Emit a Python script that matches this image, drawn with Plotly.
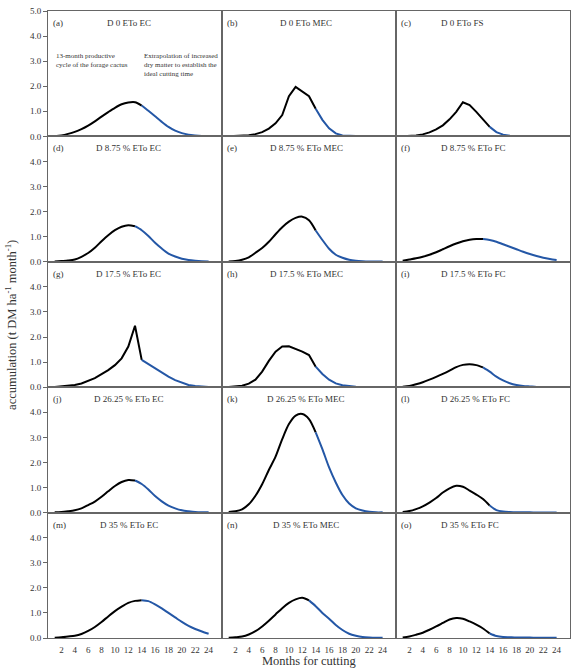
import plotly.graph_objects as go
from plotly.subplots import make_subplots

months = list(range(1, 25))

# Dry matter accumulation (t DM ha-1 month-1), months 1..24
a_d0_ec = [0.01, 0.04, 0.10, 0.18, 0.29, 0.43, 0.60, 0.79, 0.97, 1.14, 1.28, 1.35,
           1.36, 1.23, 1.02, 0.80, 0.58, 0.38, 0.23, 0.13, 0.07, 0.04, 0.02, 0.01]
b_d0_mec = [0.01, 0.02, 0.03, 0.05, 0.09, 0.17, 0.31, 0.52, 0.85, 1.60, 1.97, 1.80,
            1.60, 1.10, 0.66, 0.32, 0.12, 0.04, 0.02, 0.01, 0.01, 0.01, 0.01, 0.01]
c_d0_fs = [0.01, 0.02, 0.04, 0.08, 0.16, 0.28, 0.44, 0.68, 0.98, 1.36, 1.25, 0.98,
           0.66, 0.38, 0.17, 0.07, 0.03, 0.02, 0.01, 0.01, 0.01, 0.01, 0.01, 0.01]
d_d875_ec = [0.01, 0.03, 0.05, 0.09, 0.20, 0.35, 0.56, 0.82, 1.06, 1.26, 1.40, 1.46,
             1.42, 1.26, 1.03, 0.76, 0.53, 0.33, 0.21, 0.12, 0.07, 0.04, 0.02, 0.01]
e_d875_mec = [0.01, 0.03, 0.08, 0.18, 0.36, 0.55, 0.80, 1.10, 1.38, 1.60, 1.75, 1.80,
              1.66, 1.25, 0.87, 0.52, 0.28, 0.16, 0.08, 0.04, 0.02, 0.01, 0.01, 0.01]
f_d875_fc = [0.04, 0.09, 0.14, 0.20, 0.28, 0.38, 0.50, 0.62, 0.73, 0.82, 0.88, 0.91,
             0.91, 0.87, 0.80, 0.70, 0.60, 0.50, 0.40, 0.31, 0.23, 0.16, 0.11, 0.07]
g_d175_ec = [0.01, 0.03, 0.06, 0.09, 0.15, 0.24, 0.36, 0.52, 0.68, 0.88, 1.15, 1.62,
             2.45, 1.09, 0.92, 0.74, 0.58, 0.42, 0.28, 0.17, 0.09, 0.05, 0.02, 0.01]
h_d175_mec = [0.01, 0.03, 0.06, 0.14, 0.30, 0.62, 1.05, 1.42, 1.62, 1.63, 1.54, 1.42,
              1.28, 0.82, 0.53, 0.30, 0.15, 0.08, 0.04, 0.02, 0.01, 0.01, 0.00, 0.00]
i_d175_fc = [0.02, 0.05, 0.12, 0.20, 0.30, 0.41, 0.53, 0.66, 0.80, 0.89, 0.92, 0.88,
             0.79, 0.62, 0.42, 0.27, 0.16, 0.09, 0.05, 0.03, 0.01, 0.01, 0.00, 0.00]
j_d2625_ec = [0.01, 0.02, 0.05, 0.09, 0.17, 0.30, 0.44, 0.63, 0.85, 1.06, 1.22, 1.30,
              1.28, 1.14, 0.92, 0.66, 0.45, 0.28, 0.17, 0.09, 0.05, 0.02, 0.01, 0.01]
k_d2625_mec = [0.02, 0.05, 0.13, 0.33, 0.67, 1.13, 1.70, 2.23, 2.93, 3.53, 3.87, 3.93,
               3.73, 3.20, 2.53, 1.80, 1.20, 0.70, 0.36, 0.17, 0.08, 0.03, 0.01, 0.01]
l_d2625_fc = [0.02, 0.06, 0.14, 0.25, 0.40, 0.58, 0.80, 0.97, 1.07, 1.03, 0.88, 0.72,
              0.54, 0.28, 0.10, 0.04, 0.02, 0.01, 0.01, 0.01, 0.00, 0.00, 0.00, 0.00]
m_d35_ec = [0.01, 0.03, 0.06, 0.09, 0.16, 0.28, 0.44, 0.64, 0.86, 1.07, 1.25, 1.40,
            1.48, 1.51, 1.47, 1.34, 1.18, 1.00, 0.82, 0.64, 0.48, 0.36, 0.26, 0.17]
n_d35_mec = [0.01, 0.03, 0.06, 0.14, 0.27, 0.46, 0.69, 0.94, 1.19, 1.40, 1.54, 1.60,
             1.50, 1.27, 1.00, 0.77, 0.52, 0.32, 0.17, 0.09, 0.04, 0.02, 0.01, 0.01]
o_d35_fc = [0.02, 0.06, 0.13, 0.21, 0.33, 0.46, 0.60, 0.74, 0.80, 0.77, 0.66, 0.53,
            0.38, 0.18, 0.08, 0.04, 0.03, 0.02, 0.02, 0.02, 0.01, 0.01, 0.01, 0.01]

series = [a_d0_ec, b_d0_mec, c_d0_fs,
          d_d875_ec, e_d875_mec, f_d875_fc,
          g_d175_ec, h_d175_mec, i_d175_fc,
          j_d2625_ec, k_d2625_mec, l_d2625_fc,
          m_d35_ec, n_d35_mec, o_d35_fc]

# last month of the productive (black) part of each curve
split_month = [14, 14, 14,
               13, 14, 13,
               14, 14, 13,
               13, 14, 14,
               14, 13, 14]

# panels whose curves show sharp corners in the original
angular = [False, True, True,
           False, False, False,
           True, True, False,
           False, False, False,
           False, False, False]

letters = ["(a)", "(b)", "(c)", "(d)", "(e)", "(f)", "(g)", "(h)", "(i)",
           "(j)", "(k)", "(l)", "(m)", "(n)", "(o)"]
titles = ["D 0 ETo EC", "D 0 ETo MEC", "D 0 ETo FS",
          "D 8.75 % ETo EC", "D 8.75 % ETo MEC", "D 8.75 % ETo FC",
          "D 17.5 % ETo EC", "D 17.5 % ETo MEC", "D 17.5 % ETo FC",
          "D 26.25 % ETo EC", "D 26.25 % ETo MEC", "D 26.25 % ETo FC",
          "D 35 % ETo EC", "D 35 % ETo MEC", "D 35 % ETo FC"]

x_ticks = list(range(2, 25, 2))
y_ticks_top = [0, 1, 2, 3, 4, 5]
y_ticks = [0, 1, 2, 3, 4]

BLACK = "#000000"
BLUE = "#2457a6"
FRAME = "#666666"
FONT = "Liberation Serif, Times New Roman, serif"
TXT = "#333333"

fig = make_subplots(rows=5, cols=3, horizontal_spacing=0, vertical_spacing=0)

for idx, vals in enumerate(series):
    r = idx // 3 + 1
    c = idx % 3 + 1
    s = split_month[idx]
    k = months.index(s)
    shape = "linear" if angular[idx] else "spline"
    fig.add_trace(go.Scatter(x=months[:k + 1], y=vals[:k + 1], mode="lines",
                             line=dict(color=BLACK, width=2, shape=shape, smoothing=0.8),
                             showlegend=False, hoverinfo="skip"), row=r, col=c)
    fig.add_trace(go.Scatter(x=months[k:], y=vals[k:], mode="lines",
                             line=dict(color=BLUE, width=2, shape=shape, smoothing=0.8),
                             showlegend=False, hoverinfo="skip"), row=r, col=c)
    fig.update_xaxes(range=[0, 26], tickvals=x_ticks, showticklabels=(r == 5),
                     ticks="", showline=True, mirror=True, linecolor=FRAME, linewidth=1,
                     showgrid=False, zeroline=False, ticklabelstandoff=3,
                     tickfont=dict(family=FONT, size=9, color=TXT), row=r, col=c)
    tv = y_ticks_top if r == 1 else y_ticks
    fig.update_yaxes(range=[0, 5], tickvals=tv, ticktext=[f"{v:.1f}" for v in tv],
                     showticklabels=(c == 1), ticks=("outside" if c == 1 else ""),
                     ticklen=4, tickcolor=FRAME, showline=True, mirror=True,
                     linecolor=FRAME, linewidth=1, showgrid=False, zeroline=False,
                     tickfont=dict(family=FONT, size=9, color=TXT), row=r, col=c)

    axn = "" if idx == 0 else str(idx + 1)
    fig.add_annotation(xref=f"x{axn} domain", yref=f"y{axn} domain", x=0.018, y=0.905,
                       text=letters[idx], showarrow=False, xanchor="left", yanchor="middle",
                       font=dict(family=FONT, size=9, color=TXT))
    if c == 3:
        tx, xa = 0.247, "left"
    elif c == 2:
        tx, xa = 0.484, "center"
    else:
        tx, xa = 0.463, "center"
    fig.add_annotation(xref=f"x{axn} domain", yref=f"y{axn} domain", x=tx, y=0.905,
                       text=titles[idx], showarrow=False, xanchor=xa, yanchor="middle",
                       font=dict(family=FONT, size=9, color=TXT))

fig.add_annotation(xref="x domain", yref="y domain", x=0.036, y=0.69,
                   text="13-month productive<br>cycle of the forage cactus",
                   showarrow=False, xanchor="left", yanchor="top", align="left",
                   font=dict(family=FONT, size=7, color=TXT))
fig.add_annotation(xref="x domain", yref="y domain", x=0.543, y=0.69,
                   text="Extrapolation of increased<br>dry matter to establish the<br>ideal cutting time",
                   showarrow=False, xanchor="left", yanchor="top", align="left",
                   font=dict(family=FONT, size=7, color=TXT))

fig.add_annotation(xref="paper", yref="paper", x=0.5, y=-0.037,
                   text="Months for cutting", showarrow=False, xanchor="center",
                   yanchor="middle", font=dict(family=FONT, size=12.5, color=TXT))
fig.add_annotation(xref="paper", yref="paper", x=-0.072, y=0.50, textangle=-90,
                   text="accumulation (t DM ha<sup>-1</sup> month<sup>-1</sup>)",
                   showarrow=False, xanchor="center", yanchor="middle",
                   font=dict(family=FONT, size=12.5, color=TXT))

fig.update_layout(width=577, height=671, margin=dict(l=48, r=6, t=8, b=33),
                  paper_bgcolor="white", plot_bgcolor="white")

fig.write_html("out.html")
